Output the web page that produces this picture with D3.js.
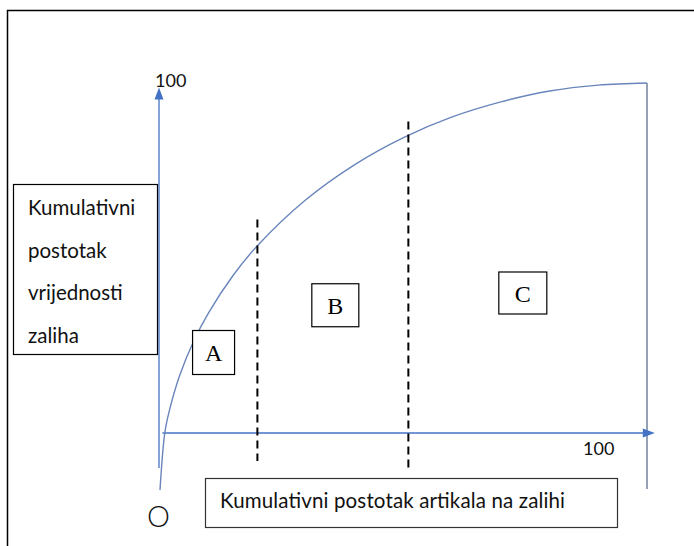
<!DOCTYPE html>
<html>
<head>
<meta charset="utf-8">
<script src="https://cdn.jsdelivr.net/npm/d3@7"></script>
<style>
    html, body { margin: 0; padding: 0; background: #fff; }
    svg { display: block; }
</style>
</head>
<body>
<svg width="694" height="546"></svg>
<script>
// ABC curve (percent of articles -> percent of value)
const articlePct = [0, 1, 2, 4, 7, 10, 15, 20, 30, 40, 50, 60, 70, 80, 90, 100]
const valuePct = [-16.3, 0.2, 6.8, 16.3, 26.5, 34.4, 45, 53.5, 66.7, 76.7, 84.4, 90.3, 94.6, 97.7, 99.4, 100]

// class borders (dashed lines)
const breakX = [20, 51]
const breakTop = [61, 89]
const breakBottom = [-8, -11]

const classes = ["A", "B", "C"]
const classX = [11, 36, 74.5]
const classY = [23, 36.5, 40]

const yLabel = ["Kumulativni", "postotak", "vrijednosti", "zaliha"]
const xLabel = "Kumulativni postotak artikala na zalihi"
const axisMax = "100"
const origin = "O"

const
    width = 694,
    height = 546,
    blue = "#4472c4",
    font = "Lato, 'Open Sans', sans-serif"

const x = d3.scaleLinear()
    .domain([0, 100])
    .range([160, 647])

const y = d3.scaleLinear()
    .domain([0, 100])
    .range([433, 83])

const svg = d3.select("svg")
    .attr("viewBox", [0, 0, width, height])

// outer frame
svg.append("rect")
    .attr("x", 7.5).attr("y", 10.5)
    .attr("width", 720).attr("height", 560)
    .attr("fill", "none")
    .attr("stroke", "#000")
    .attr("stroke-width", 1.5)

// right border of the chart
svg.append("line")
    .attr("x1", x(100)).attr("x2", x(100))
    .attr("y1", y(100)).attr("y2", y(-16))
    .attr("stroke", "#5d6f8f")
    .attr("stroke-width", 1.3)

// axes with arrow heads
const axes = svg.append("g").attr("class", "axes")

axes.append("line")
    .attr("x1", x(0) - 1).attr("x2", x(0) - 1)
    .attr("y1", y(-10)).attr("y2", y(96))
    .attr("stroke", blue)
    .attr("stroke-width", 1.3)

axes.append("path")
    .attr("d", `M${x(0) - 1},${y(98.7)} l-4.5,12 l9,0 Z`)
    .attr("fill", blue)

axes.append("line")
    .attr("x1", x(0.5)).attr("x2", x(100))
    .attr("y1", y(0)).attr("y2", y(0))
    .attr("stroke", blue)
    .attr("stroke-width", 1.3)

axes.append("path")
    .attr("d", `M${x(101.6)},${y(0)} l-12,-4.5 l0,9 Z`)
    .attr("fill", blue)

// curve
const line = d3.line()
    .x((d, i) => x(articlePct[i]))
    .y(d => y(d))
    .curve(d3.curveCatmullRom.alpha(0.5))

svg.append("path")
    .datum(valuePct)
    .attr("d", line)
    .attr("fill", "none")
    .attr("stroke", "#6985bb")
    .attr("stroke-width", 1.4)

// dashed class borders
svg.append("g")
    .selectAll("line")
    .data(breakX)
    .join("line")
    .attr("x1", d => x(d)).attr("x2", d => x(d))
    .attr("y1", (d, i) => y(breakTop[i]))
    .attr("y2", (d, i) => y(breakBottom[i]))
    .attr("stroke", "#000")
    .attr("stroke-width", 2)
    .attr("stroke-dasharray", "8,5")

// class boxes
const boxW = [42, 47, 48], boxH = [44, 43, 42]
const cls = svg.append("g")
    .selectAll("g")
    .data(classes)
    .join("g")
    .attr("transform", (d, i) => `translate(${x(classX[i])},${y(classY[i])})`)

cls.append("rect")
    .attr("x", (d, i) => -boxW[i] / 2)
    .attr("y", (d, i) => -boxH[i] / 2)
    .attr("width", (d, i) => boxW[i])
    .attr("height", (d, i) => boxH[i])
    .attr("fill", "#fff")
    .attr("stroke", "#000")
    .attr("stroke-width", 1.2)

cls.append("text")
    .attr("text-anchor", "middle")
    .attr("y", 8.5)
    .attr("font-family", "'Liberation Serif', 'Times New Roman', serif")
    .attr("font-size", 24)
    .text(d => d)

// y label box
svg.append("rect")
    .attr("x", 13.5).attr("y", 184.5)
    .attr("width", 144).attr("height", 170)
    .attr("fill", "#fff")
    .attr("stroke", "#000")
    .attr("stroke-width", 1.2)

svg.append("g")
    .selectAll("text")
    .data(yLabel)
    .join("text")
    .attr("x", 28)
    .attr("y", (d, i) => 215 + i * 42.5)
    .attr("font-family", font)
    .attr("font-size", 20.5)
    .attr("fill", "#111")
    .text(d => d)

// x label box
svg.append("rect")
    .attr("x", 205.5).attr("y", 478.5)
    .attr("width", 412).attr("height", 49)
    .attr("fill", "#fff")
    .attr("stroke", "#333")
    .attr("stroke-width", 1.2)

svg.append("text")
    .attr("x", 220).attr("y", 508)
    .attr("font-family", font)
    .attr("font-size", 20.5)
    .attr("fill", "#111")
    .attr("textLength", 345)
    .attr("lengthAdjust", "spacing")
    .text(xLabel)

// axis end labels and origin
svg.append("text")
    .attr("x", 155).attr("y", 87)
    .attr("font-family", font)
    .attr("font-size", 18)
    .attr("fill", "#111")
    .text(axisMax)

svg.append("text")
    .attr("x", 583).attr("y", 455)
    .attr("font-family", font)
    .attr("font-size", 18)
    .attr("fill", "#111")
    .text(axisMax)

svg.append("text")
    .attr("x", 147).attr("y", 527)
    .attr("font-family", font)
    .attr("font-size", 29)
    .attr("font-weight", 300)
    .attr("fill", "#111")
    .text(origin)
</script>
</body>
</html>
